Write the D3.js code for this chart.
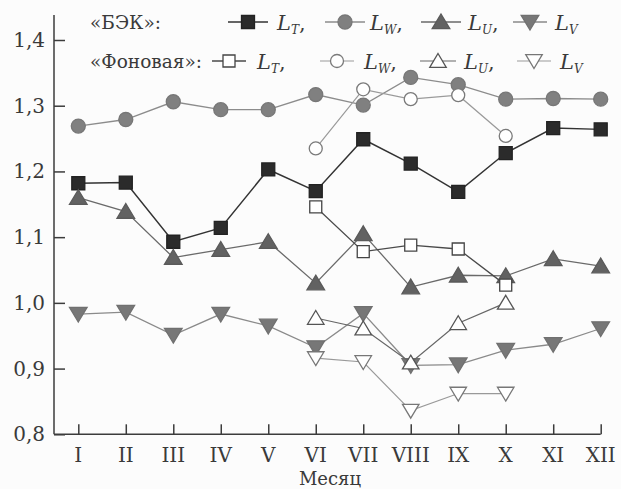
<!DOCTYPE html>
<html>
<head>
<meta charset="utf-8">
<script src="https://cdn.jsdelivr.net/npm/d3@7"></script>
<style>
  body { margin: 0; background: #fcfcfc; }
  svg { display: block; }
  text { font-family: "DejaVu Serif", "Liberation Serif", serif; fill: #3a3a3a; }
</style>
</head>
<body>
<svg id="chart" width="621" height="489"></svg>
<script>
const months = ['I', 'II', 'III', 'IV', 'V', 'VI', 'VII', 'VIII', 'IX', 'X', 'XI', 'XII'];
const yTicks = [0.8, 0.9, 1.0, 1.1, 1.2, 1.3, 1.4];

// «БЭК»
const bekLT = [1.182, 1.183, 1.093, 1.114, 1.203, 1.170, 1.249, 1.212, 1.169, 1.228, 1.266, 1.264];
const bekLW = [1.269, 1.279, 1.306, 1.294, 1.294, 1.317, 1.301, 1.343, 1.332, 1.310, 1.311, 1.310];
const bekLU = [1.160, 1.139, 1.069, 1.081, 1.093, 1.030, 1.105, 1.024, 1.042, 1.041, 1.067, 1.056];
const bekLV = [0.983, 0.986, 0.951, 0.983, 0.965, 0.932, 0.984, 0.905, 0.906, 0.928, 0.937, 0.961];

// «Фоновая» (only VI–X)
const fonLT = [null, null, null, null, null, 1.146, 1.078, 1.088, 1.082, 1.027, null, null];
const fonLW = [null, null, null, null, null, 1.235, 1.325, 1.310, 1.316, 1.254, null, null];
const fonLU = [null, null, null, null, null, 0.977, 0.961, 0.909, 0.969, 1.000, null, null];
const fonLV = [null, null, null, null, null, 0.916, 0.910, 0.836, 0.862, 0.862, null, null];

const svg = d3.select('#chart');

const x = d3.scalePoint().domain(months).range([78.3, 600.7]);
const y = d3.scaleLinear().domain([0.8, 1.4]).range([434.3, 40]);

const axisColor = '#3c3c3c';

// marker shapes, centred on the point
const shapes = {
    square: s => `M${-s / 2},${-s / 2}h${s}v${s}h${-s}Z`,
    circle: s => `M${s / 2},0A${s / 2},${s / 2} 0 1 1 ${-s / 2},0A${s / 2},${s / 2} 0 1 1 ${s / 2},0Z`,
    up: s => `M0,${-s * 0.5}L${s * 0.55},${s * 0.42}L${-s * 0.55},${s * 0.42}Z`,
    down: s => `M0,${s * 0.5}L${s * 0.55},${-s * 0.42}L${-s * 0.55},${-s * 0.42}Z`
};

const series = [
    { values: bekLT, shape: 'square', size: 13, line: '#333', lw: 1.5, fill: '#2b2b2b', stroke: '#222' },
    { values: bekLW, shape: 'circle', size: 14, line: '#8c8c8c', lw: 1.3, fill: '#808080', stroke: '#777' },
    { values: bekLU, shape: 'up', size: 16, line: '#6a6a6a', lw: 1.3, fill: '#626262', stroke: '#5a5a5a' },
    { values: bekLV, shape: 'down', size: 16, line: '#8a8a8a', lw: 1.3, fill: '#777', stroke: '#707070' },
    { values: fonLT, shape: 'square', size: 12, line: '#4a4a4a', lw: 1.3, fill: '#fff', stroke: '#444' },
    { values: fonLW, shape: 'circle', size: 13, line: '#9a9a9a', lw: 1.2, fill: '#fff', stroke: '#7a7a7a' },
    { values: fonLU, shape: 'up', size: 15, line: '#666', lw: 1.2, fill: '#fff', stroke: '#555' },
    { values: fonLV, shape: 'down', size: 15, line: '#999', lw: 1.2, fill: '#fff', stroke: '#777' }
];

// axes
const yAxis = svg.append('g').attr('transform', 'translate(54,0)')
    .call(d3.axisRight(y).tickValues(yTicks).tickSize(11).tickFormat(() => ''));
yAxis.select('.domain').attr('d', 'M0,15V434.3');
yAxis.selectAll('line, path').attr('stroke', axisColor).attr('stroke-width', 1.5);

svg.append('g').selectAll('text').data(yTicks).join('text')
    .attr('x', 45).attr('y', d => y(d) + 7)
    .attr('text-anchor', 'end').attr('font-size', 20)
    .text(d => d3.format('.1f')(d).replace('.', ','));

const xAxis = svg.append('g').attr('transform', 'translate(0,434.3)')
    .call(d3.axisTop(x).tickSize(10).tickFormat(''));
xAxis.select('.domain').attr('d', 'M54,0H600.7');
xAxis.selectAll('line, path').attr('stroke', axisColor).attr('stroke-width', 1.5);

svg.append('g').selectAll('text').data(months).join('text')
    .attr('x', d => x(d)).attr('y', 462)
    .attr('text-anchor', 'middle').attr('font-size', 20)
    .text(d => d);

svg.append('text').attr('x', 330).attr('y', 485)
    .attr('text-anchor', 'middle').attr('font-size', 18)
    .text('Месяц');

// lines and markers
const line = d3.line()
    .defined(d => d != null)
    .x((d, i) => x(months[i]))
    .y(d => y(d));

series.forEach(s => {
    const g = svg.append('g');
    g.append('path')
        .attr('d', line(s.values))
        .attr('fill', 'none')
        .attr('stroke', s.line)
        .attr('stroke-width', s.lw);
    g.selectAll('path.m')
        .data(s.values.map((v, i) => ({ v, m: months[i] })).filter(d => d.v != null))
        .join('path')
        .attr('class', 'm')
        .attr('transform', d => `translate(${x(d.m)},${y(d.v)})`)
        .attr('d', shapes[s.shape](s.size))
        .attr('fill', s.fill)
        .attr('stroke', s.stroke)
        .attr('stroke-width', 1.3);
});

// legend
const legendRows = [
    { label: '«БЭК»:', y: 22, items: [
        { s: series[0], x1: 228, x2: 268, sub: 'T', tx: 277 },
        { s: series[1], x1: 325, x2: 365, sub: 'W', tx: 370 },
        { s: series[2], x1: 421, x2: 461, sub: 'U', tx: 468 },
        { s: series[3], x1: 513, x2: 547, sub: 'V', tx: 555 }
    ] },
    { label: '«Фоновая»:', y: 61, items: [
        { s: series[4], x1: 212, x2: 246, sub: 'T', tx: 257 },
        { s: series[5], x1: 320, x2: 354, sub: 'W', tx: 364 },
        { s: series[6], x1: 420, x2: 456, sub: 'U', tx: 464 },
        { s: series[7], x1: 517, x2: 551, sub: 'V', tx: 560 }
    ] }
];

legendRows.forEach(row => {
    const g = svg.append('g');
    g.append('text').attr('x', 90).attr('y', row.y + 7).attr('font-size', 18.5).text(row.label);
    row.items.forEach((it, k) => {
        g.append('line')
            .attr('x1', it.x1).attr('x2', it.x2)
            .attr('y1', row.y).attr('y2', row.y)
            .attr('stroke', it.s.line).attr('stroke-width', it.s.lw);
        g.append('path')
            .attr('transform', `translate(${(it.x1 + it.x2) / 2},${row.y})`)
            .attr('d', shapes[it.s.shape](it.s.size))
            .attr('fill', it.s.fill).attr('stroke', it.s.stroke).attr('stroke-width', 1.3);
        const t = g.append('text').attr('x', it.tx).attr('y', row.y + 8).attr('font-size', 21);
        t.append('tspan').attr('font-style', 'italic').text('L');
        t.append('tspan').attr('font-style', 'italic').attr('font-size', 12).attr('dy', 4).text(it.sub);
        if (k < row.items.length - 1) t.append('tspan').attr('dy', -4).text(',');
    });
});
</script>
</body>
</html>
